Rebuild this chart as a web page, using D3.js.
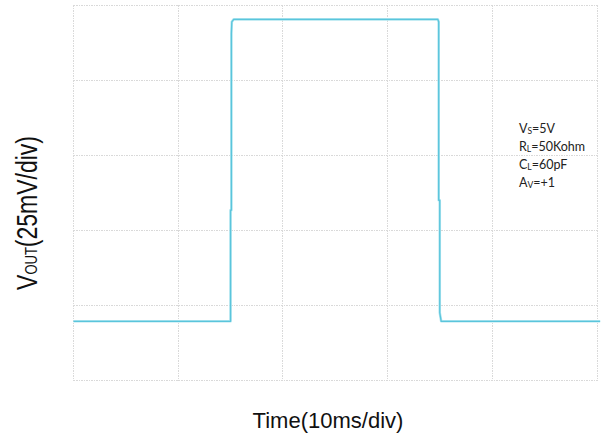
<!DOCTYPE html>
<html>
<head>
<meta charset="utf-8">
<script src="https://cdn.jsdelivr.net/npm/d3@7/dist/d3.min.js"></script>
<style>
  html, body { margin: 0; padding: 0; background: #fff; }
  svg { display: block; }
</style>
</head>
<body>
<svg id="chart" width="608" height="434"></svg>
<script>
// Time axis: 10 ms per division, five divisions
const timeTicks = [0, 10, 20, 30, 40, 50];
// Output voltage axis: 25 mV per division, five divisions
const voutTicks = [0, 25, 50, 75, 100, 125];

// Captured step response (ms, mV)
const timeMs = [0, 15.0, 15.0, 15.08, 15.08, 15.12, 15.3, 34.8, 34.88, 34.88, 34.98, 34.98, 35.12, 50.3];
const voutMv = [19.7, 19.7, 56.7, 56.7, 115.5, 119.4, 120.2, 120.2, 119.4, 60.0, 60.0, 22.6, 19.7, 19.7];

// Test conditions
const condMain = ["V", "R", "C", "A"];
const condSub = ["S", "L", "L", "V"];
const condRest = ["=5V", "=50Kohm", "=60pF", "=+1"];

const xTitle = "Time(10ms/div)";
const yTitleMain = "V";
const yTitleSub = "OUT";
const yTitleRest = "(25mV/div)";

const svg = d3.select("#chart");

const x = d3.scaleLinear().domain([0, 50]).range([73.5, 597]);
const y = d3.scaleLinear().domain([0, 125]).range([380.5, 5]);

// Dotted graticule
const grid = svg.append("g").attr("class", "grid");
const gridStyle = sel => sel
  .attr("stroke", "#d9d9d9")
  .attr("stroke-width", 1)
  .attr("stroke-dasharray", "1.5,1")
  .attr("shape-rendering", "crispEdges");

grid.selectAll("line.v").data(timeTicks).join("line")
  .attr("class", "v")
  .attr("x1", d => x(d)).attr("x2", d => x(d))
  .attr("y1", y(125)).attr("y2", y(0))
  .call(gridStyle);

grid.selectAll("line.h").data(voutTicks).join("line")
  .attr("class", "h")
  .attr("x1", x(0)).attr("x2", x(50))
  .attr("y1", d => y(d)).attr("y2", d => y(d))
  .call(gridStyle);

// Trace
const pts = timeMs.map((t, i) => [t, voutMv[i]]);
const line = d3.line().x(d => x(d[0])).y(d => y(d[1]));

svg.append("path")
  .datum(pts)
  .attr("d", line)
  .attr("fill", "none")
  .attr("stroke", "#b3e6f0")
  .attr("stroke-width", 2.6)
  .attr("stroke-linejoin", "round");

svg.append("path")
  .datum(pts)
  .attr("d", line)
  .attr("fill", "none")
  .attr("stroke", "#5ac5dc")
  .attr("stroke-width", 1.3)
  .attr("stroke-linejoin", "round");

// Conditions block
const cond = svg.append("g")
  .attr("font-family", "Lato, 'Liberation Sans', sans-serif")
  .attr("fill", "#222");

condMain.forEach((m, i) => {
  const t = cond.append("text")
    .attr("x", 519)
    .attr("y", 133 + i * 18)
    .attr("font-size", 12.5);
  t.append("tspan").text(m);
  t.append("tspan").attr("font-size", 8.5).attr("dy", 1).text(condSub[i]);
  t.append("tspan").attr("dy", -1).text(condRest[i]);
});

// Axis titles
svg.append("text")
  .attr("x", 328)
  .attr("y", 428)
  .attr("text-anchor", "middle")
  .attr("font-family", "'Liberation Sans', Arial, sans-serif")
  .attr("font-size", 22)
  .attr("fill", "#111")
  .text(xTitle);

const yt = svg.append("text")
  .attr("transform", "translate(36.5,213) rotate(-90) scale(1,1.25)")
  .attr("text-anchor", "middle")
  .attr("font-family", "'Liberation Sans', Arial, sans-serif")
  .attr("font-size", 23)
  .attr("fill", "#111");
yt.append("tspan").text(yTitleMain);
yt.append("tspan").attr("font-size", 13).text(yTitleSub);
yt.append("tspan").text(yTitleRest);
</script>
</body>
</html>
